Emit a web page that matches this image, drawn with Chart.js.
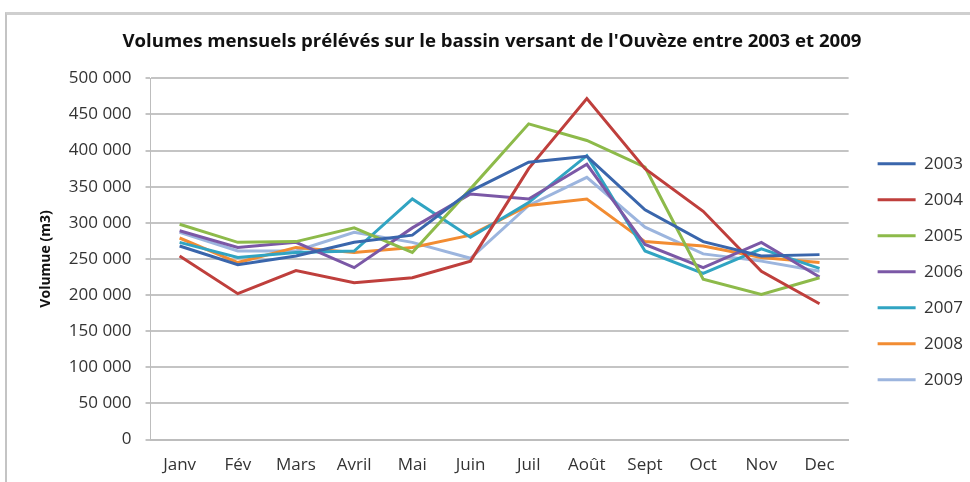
<!DOCTYPE html>
<html>
<head>
<meta charset="utf-8">
<script src="https://cdn.jsdelivr.net/npm/chart.js@4.4.1/dist/chart.umd.min.js"></script>
<style>
  html, body { margin: 0; padding: 0; background: #fff; }
  #wrap { position: relative; width: 970px; height: 482px; overflow: hidden; }
  #frame {
    position: absolute; left: 5px; top: 12px; width: 980px; height: 490px;
    border-left: 2px solid #c4c4c4; border-top: 3px solid #cfcfcf;
    pointer-events: none;
  }
</style>
</head>
<body>
<div id="wrap">
  <canvas id="chart" width="970" height="482"></canvas>
  <div id="frame"></div>
</div>
<script>
// data (m3 per month)
const months = ['Janv', 'Fév', 'Mars', 'Avril', 'Mai', 'Juin', 'Juil', 'Août', 'Sept', 'Oct', 'Nov', 'Dec'];
const years = ['2003', '2004', '2005', '2006', '2007', '2008', '2009'];

const v2003 = [268000, 242000, 254000, 273000, 283000, 344000, 384000, 392000, 318000, 274000, 254000, 256000];
const v2004 = [254000, 202000, 234000, 217000, 224000, 247000, 375000, 472000, 375000, 316000, 233000, 188000];
const v2005 = [298000, 273000, 274000, 293000, 259000, 347000, 437000, 414000, 377000, 222000, 201000, 224000];
const v2006 = [289000, 266000, 273000, 238000, 293000, 340000, 333000, 381000, 270000, 238000, 273000, 225000];
const v2007 = [273000, 252000, 259000, 261000, 333000, 280000, 328000, 393000, 261000, 230000, 264000, 237000];
const v2008 = [279000, 245000, 266000, 259000, 266000, 283000, 324000, 333000, 274000, 268000, 252000, 245000];
const v2009 = [287000, 261000, 261000, 287000, 273000, 251000, 324000, 363000, 294000, 257000, 247000, 233000];

const yTicks = [0, 50000, 100000, 150000, 200000, 250000, 300000, 350000, 400000, 450000, 500000];

const seriesValues = [v2003, v2004, v2005, v2006, v2007, v2008, v2009];
const colors = ['#3a66ac', '#bf3f3c', '#8dba4a', '#7b58a6', '#31a4c2', '#f28c32', '#9cb5de'];

const FONT = 'Open Sans';

function fmt(v) {
    return String(v).replace(/\B(?=(\d{3})+(?!\d))/g, ' ');
}

// nudge the legend block so it sits like the Excel one
const legendNudge = {
    id: 'legendNudge',
    afterLayout(chart) {
        const lg = chart.legend;
        if (!lg) return;
        lg.left += 10;
        lg.right += 10;
        const dy = chart.chartArea.top + 58 - lg.top;
        lg.top += dy;
        lg.bottom += dy;
    }
};

document.addEventListener('DOMContentLoaded', () => {
    const ctx = document.getElementById('chart');

    new Chart(ctx, {
        type: 'line',
        data: {
            labels: months,
            datasets: years.map((y, i) => ({
                label: y,
                data: seriesValues[i],
                borderColor: colors[i],
                backgroundColor: colors[i],
                borderWidth: 3,
                pointRadius: 0,
                tension: 0
            }))
        },
        options: {
            responsive: false,
            animation: false,
            layout: { padding: { left: 21, right: 7, top: 0, bottom: -8 } },
            plugins: {
                title: {
                    display: true,
                    text: "Volumes mensuels prélévés sur le bassin versant de l'Ouvèze entre 2003 et 2009",
                    color: '#111',
                    font: { family: FONT, size: 18.6, weight: 'bold' },
                    padding: { top: 31, bottom: 25 }
                },
                legend: {
                    position: 'right',
                    align: 'start',
                    labels: {
                        usePointStyle: true,
                        pointStyle: 'line',
                        pointStyleWidth: 38,
                        color: '#333',
                        font: { family: FONT, size: 17 },
                        padding: 19
                    }
                },
                tooltip: { enabled: false }
            },
            scales: {
                x: {
                    offset: true,
                    grid: { display: false, drawTicks: false },
                    border: { display: true, color: '#bdbdbd', width: 2 },
                    ticks: {
                        color: '#333',
                        padding: 15,
                        font: { family: FONT, size: 17 }
                    }
                },
                y: {
                    min: 0,
                    max: 500000,
                    afterBuildTicks: axis => { axis.ticks = yTicks.map(v => ({ value: v })); },
                    grid: { color: '#c4c4c4', lineWidth: 2, tickLength: 5 },
                    border: { display: true, color: '#bdbdbd', width: 1 },
                    ticks: {
                        color: '#333',
                        padding: 14,
                        font: { family: FONT, size: 17 },
                        callback: v => fmt(v)
                    },
                    title: {
                        display: true,
                        text: 'Volumue (m3)',
                        color: '#111',
                        font: { family: FONT, size: 14, weight: 'bold' },
                        padding: { top: 17, bottom: 0 }
                    }
                }
            }
        },
        plugins: [legendNudge]
    });
});
</script>
</body>
</html>
